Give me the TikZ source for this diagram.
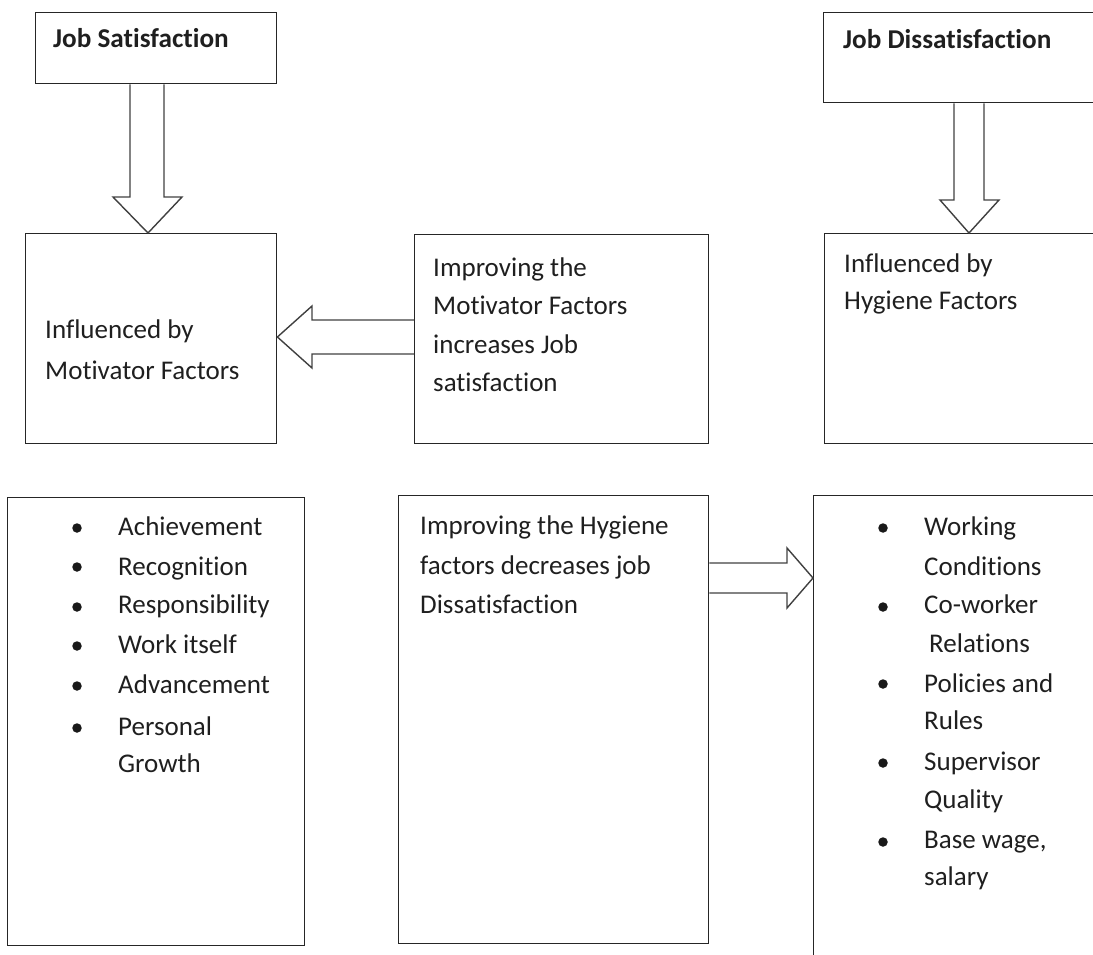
\documentclass[tikz,border=0pt]{standalone}
\usepackage{fontspec}
\setmainfont{Carlito}[Ligatures={NoCommon,NoRequired,NoContextual}]
% split letter pairs so that no ligature is formed
\newcommand\nolig{\kern0pt{}}
\begin{document}
\begin{tikzpicture}[x=1pt,y=-1pt,
  frame/.style={draw=black!85,line width=1.4pt,inner sep=0pt,anchor=north west},
  blk/.style={draw=black!75,line width=1.4pt,line join=miter},
  txt/.style={anchor=base west,inner sep=0pt,text=black!88,font=\fontsize{27}{39}\selectfont},
  ttl/.style={txt,font=\fontsize{27.2}{39}\selectfont\bfseries},
  dot/.style={circle,fill=black!90,inner sep=0pt,minimum size=9.5pt}]
\useasboundingbox (0,0) rectangle (1093,955);
\clip (0,0) rectangle (1093,955);

% boxes
\node[frame,minimum width=241pt,minimum height=71pt] (js) at (35,12) {};
\node[frame,minimum width=280pt,minimum height=90pt] (jd) at (823,12) {};
\node[frame,minimum width=251pt,minimum height=210pt] (mot) at (25,233) {};
\node[frame,minimum width=294pt,minimum height=209pt] (imp) at (414,234) {};
\node[frame,minimum width=280pt,minimum height=210pt] (hyg) at (824,233) {};
\node[frame,minimum width=297pt,minimum height=448pt] (mlist) at (7,497) {};
\node[frame,minimum width=310pt,minimum height=448pt] (hyr) at (398,495) {};
\node[frame,minimum width=290pt,minimum height=480pt] (hlist) at (813,495) {};

% titles
\node[ttl] (tjs) at (53,48) {Job Sat\nolig isfact\nolig ion};
\node[ttl] (tjd) at (843,49) {Job Dissat\nolig isfact\nolig ion};

% paragraph texts
\node[txt] (m1) at (45,338) {Inf\nolig luenced by};
\node[txt] (m2) at (45,379) {Mot\nolig ivator Factors};
\node[txt] (i1) at (433,276) {Improving the};
\node[txt] (i2) at (433,314) {Mot\nolig ivator Factors};
\node[txt] (i3) at (433,353) {increases Job};
\node[txt] (i4) at (433,391) {sat\nolig isfact\nolig ion};
\node[txt] (h1) at (844,272) {Inf\nolig luenced by};
\node[txt] (h2) at (844,309) {Hygiene Factors};
\node[txt] (r1) at (420,534) {Improving the Hygiene};
\node[txt] (r2) at (420,574) {factors decreases job};
\node[txt] (r3) at (420,613) {Dissat\nolig isfact\nolig ion};

% motivator factor list
\node[dot] (mb1) at (77,528) {};
\node[dot] (mb2) at (77,567) {};
\node[dot] (mb3) at (77,607) {};
\node[dot] (mb4) at (77,646) {};
\node[dot] (mb5) at (77,686) {};
\node[dot] (mb6) at (77,728) {};
\node[txt] (ml1) at (118,535) {Achievement};
\node[txt] (ml2) at (118,575) {Recognit\nolig ion};
\node[txt] (ml3) at (118,613) {Responsibility};
\node[txt] (ml4) at (118,653) {Work itself};
\node[txt] (ml5) at (118,693) {Advancement};
\node[txt] (ml6) at (118,735) {Personal};
\node[txt] (ml7) at (118,772) {Growth};

% hygiene factor list
\node[dot] (hb1) at (883,528) {};
\node[dot] (hb2) at (883,607) {};
\node[dot] (hb3) at (883,684) {};
\node[dot] (hb4) at (883,763) {};
\node[dot] (hb5) at (883,842) {};
\node[txt] (hl1) at (924,535) {Working};
\node[txt] (hl2) at (924,575) {Condit\nolig ions};
\node[txt] (hl3) at (924,613) {Co-worker};
\node[txt] (hl4) at (929,652) {Relat\nolig ions};
\node[txt] (hl5) at (924,692) {Policies and};
\node[txt] (hl6) at (924,729) {Rules};
\node[txt] (hl7) at (924,770) {Supervisor};
\node[txt] (hl8) at (924,808) {Quality};
\node[txt] (hl9) at (924,848) {Base wage,};
\node[txt] (hl10) at (924,885) {salary};

% block arrows
\draw[blk] (130,0 |- js.south) -- (130,197) -- (113,197) -- (148,0 |- mot.north)
  -- (182,197) -- (164,197) -- (164,0 |- js.south);
\draw[blk] (954,0 |- jd.south) -- (954,200) -- (940,200) -- (969,0 |- hyg.north)
  -- (999,200) -- (984,200) -- (984,0 |- jd.south);
\draw[blk] (imp.west |- 0,320) -- (312,320) -- (312,306) -- (mot.east |- 0,337)
  -- (312,368) -- (312,354) -- (imp.west |- 0,354);
\draw[blk] (hyr.east |- 0,563) -- (787,563) -- (787,548) -- (hlist.west |- 0,578)
  -- (787,608) -- (787,593) -- (hyr.east |- 0,593);
\end{tikzpicture}
\end{document}
